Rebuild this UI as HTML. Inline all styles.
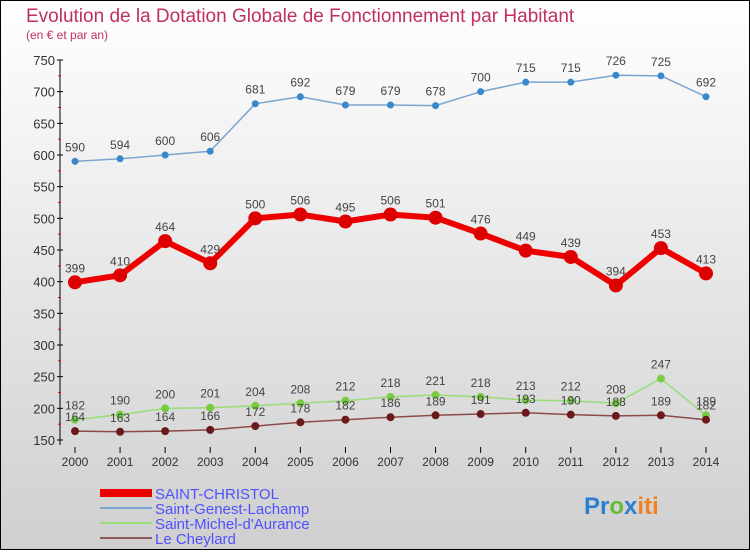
<!DOCTYPE html>
<html><head><meta charset="utf-8"><style>
body{margin:0}
#c{width:750px;height:550px;position:relative;font-family:"Liberation Sans",sans-serif}
</style></head><body>
<div id="c">
<svg id="s" width="750" height="550" xmlns="http://www.w3.org/2000/svg">
<defs><linearGradient id="bg" x1="0" y1="0" x2="0" y2="1"><stop offset="0" stop-color="#ffffff"/><stop offset="1" stop-color="#cfcfcf"/></linearGradient></defs>
<rect x="0.5" y="0.5" width="749" height="549" fill="url(#bg)" stroke="#000"/>
<text x="26" y="22" font-size="19" fill="#c0305a">Evolution de la Dotation Globale de Fonctionnement par Habitant</text>
<text x="26" y="39" font-size="12" fill="#c0305a">(en € et par an)</text>
<g id="axes"></g><g id="series"></g>
<g>
<rect x="100" y="489" width="52" height="8" fill="#e00"/>
<text x="155" y="499" font-size="15" fill="#5050ff">SAINT-CHRISTOL</text>
<line x1="100" y1="508" x2="152" y2="508" stroke="#7ba6d0" stroke-width="2"/>
<text x="155" y="514" font-size="15" fill="#5050ff">Saint-Genest-Lachamp</text>
<line x1="100" y1="523" x2="152" y2="523" stroke="#99dd77" stroke-width="2"/>
<text x="155" y="529" font-size="15" fill="#5050ff">Saint-Michel-d'Aurance</text>
<line x1="100" y1="538" x2="152" y2="538" stroke="#8b5a5a" stroke-width="2"/>
<text x="155" y="544" font-size="15" fill="#5050ff">Le Cheylard</text>
</g>
<text x="584" y="514" font-size="24" font-weight="bold"><tspan fill="#2a7fd0">Pr</tspan><tspan fill="#66bb33">o</tspan><tspan fill="#2a7fd0">x</tspan><tspan fill="#f08020">iti</tspan></text>
</svg></div>
<script>
const years=[2000,2001,2002,2003,2004,2005,2006,2007,2008,2009,2010,2011,2012,2013,2014];
const yTicks=[150,200,250,300,350,400,450,500,550,600,650,700,750];
const stChristol=[399,410,464,429,500,506,495,506,501,476,449,439,394,453,413];
const stGenest=[590,594,600,606,681,692,679,679,678,700,715,715,726,725,692];
const stMichel=[182,190,200,201,204,208,212,218,221,218,213,212,208,247,189];
const leCheylard=[164,163,164,166,172,178,182,186,189,191,193,190,188,189,182];
const NS="http://www.w3.org/2000/svg";
const X=i=>75+i*(706-75)/(years.length-1);
const Y=v=>440-(v-150)*(440-60)/600;
function el(t,a,p){const e=document.createElementNS(NS,t);for(const k in a)e.setAttribute(k,a[k]);p.appendChild(e);return e;}
const ax=document.getElementById('axes');
const yl=el('line',{x1:60,y1:60,x2:60,y2:445,stroke:'#000'},ax);


yTicks.forEach((t,i)=>{
 el('line',{x1:57,x2:63,y1:Y(t),y2:Y(t),stroke:'#000'},ax);
 if(i<yTicks.length-1)el('line',{x1:58,x2:61,y1:Y(t+25),y2:Y(t+25),stroke:'#e00'},ax);
 const tx=el('text',{x:55,y:Y(t)+5,'font-size':13,fill:'#333','text-anchor':'end'},ax);tx.textContent=t;
 
 
});
years.forEach((y,i)=>{
 el('line',{x1:X(i),x2:X(i),y1:447,y2:453,stroke:'#000'},ax);
 const tx=el('text',{x:X(i),y:466,'font-size':12,fill:'#333','text-anchor':'middle'},ax);tx.textContent=y;
 
 
});
const sg=document.getElementById('series');
function draw(data,color,dot,w,r,name){
 const g=el('g',{},sg);
 
 
 el('polyline',{points:data.map((v,i)=>X(i)+','+Y(v)).join(' '),fill:'none',stroke:color,'stroke-width':w,'stroke-linejoin':'round'},g);
 data.forEach((v,i)=>{
  const c=el('circle',{cx:X(i),cy:Y(v),r:r,fill:dot},g);
  
  
  const t=el('text',{x:X(i),y:Y(v)-10,'font-size':12,fill:'#444','text-anchor':'middle'},g);t.textContent=v;
  
  
 });
}
draw(stGenest,'#7ba6d0','#3a88cc',1.5,3.5,'series-saint-genest-lachamp');
draw(stMichel,'#99dd77','#77cc44',1.5,4,'series-saint-michel-d-aurance');
draw(leCheylard,'#8b4a4a','#6a1a1a',1.5,4,'series-le-cheylard');
draw(stChristol,'#ee0000','#dd0000',6,7,'series-saint-christol');
</script>
</body></html>
